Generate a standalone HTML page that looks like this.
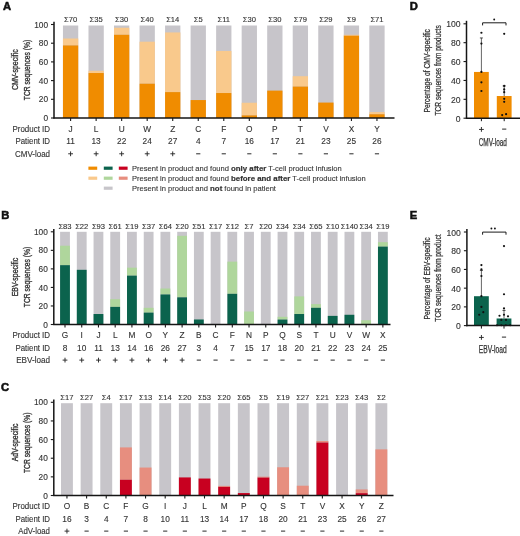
<!DOCTYPE html><html><head><meta charset="utf-8"><style>html,body{margin:0;padding:0;background:#fff;width:520px;height:536px;overflow:hidden}svg{display:block;will-change:transform}</style></head><body>
<svg width="520" height="536" viewBox="0 0 520 536" font-family='"Liberation Sans", sans-serif'>
<rect width="520" height="536" fill="#fff"/>
<text x="2.90" y="10.40" font-size="11.2" text-anchor="start" fill="#111" font-weight="bold" stroke="#111" stroke-width="0.55">A</text>
<text x="1.30" y="218.60" font-size="11.2" text-anchor="start" fill="#111" font-weight="bold" stroke="#111" stroke-width="0.55">B</text>
<text x="1.00" y="390.80" font-size="11.2" text-anchor="start" fill="#111" font-weight="bold" stroke="#111" stroke-width="0.55">C</text>
<text x="409.80" y="10.30" font-size="11.2" text-anchor="start" fill="#111" font-weight="bold" stroke="#111" stroke-width="0.55">D</text>
<text x="409.80" y="218.60" font-size="11.2" text-anchor="start" fill="#111" font-weight="bold" stroke="#111" stroke-width="0.55">E</text>
<line x1="54.00" y1="21.80" x2="54.00" y2="118.60" stroke="#151515" stroke-width="1.5"/>
<line x1="51.00" y1="118.00" x2="54.00" y2="118.00" stroke="#1a1a1a" stroke-width="1.1"/>
<text x="48.00" y="121.10" font-size="8.3" text-anchor="end" fill="#333333" stroke="#333" stroke-width="0.12">0</text>
<line x1="51.00" y1="99.30" x2="54.00" y2="99.30" stroke="#1a1a1a" stroke-width="1.1"/>
<text x="48.00" y="102.40" font-size="8.3" text-anchor="end" fill="#333333" stroke="#333" stroke-width="0.12">20</text>
<line x1="51.00" y1="80.60" x2="54.00" y2="80.60" stroke="#1a1a1a" stroke-width="1.1"/>
<text x="48.00" y="83.70" font-size="8.3" text-anchor="end" fill="#333333" stroke="#333" stroke-width="0.12">40</text>
<line x1="51.00" y1="61.90" x2="54.00" y2="61.90" stroke="#1a1a1a" stroke-width="1.1"/>
<text x="48.00" y="65.00" font-size="8.3" text-anchor="end" fill="#333333" stroke="#333" stroke-width="0.12">60</text>
<line x1="51.00" y1="43.20" x2="54.00" y2="43.20" stroke="#1a1a1a" stroke-width="1.1"/>
<text x="48.00" y="46.30" font-size="8.3" text-anchor="end" fill="#333333" stroke="#333" stroke-width="0.12">80</text>
<line x1="51.00" y1="24.50" x2="54.00" y2="24.50" stroke="#1a1a1a" stroke-width="1.1"/>
<text x="48.00" y="27.60" font-size="8.3" text-anchor="end" fill="#333333" stroke="#333" stroke-width="0.12">100</text>
<rect x="62.95" y="25.50" width="15.30" height="92.50" fill="#c7c5ca"/>
<rect x="62.95" y="38.52" width="15.30" height="6.92" fill="#f9c98c"/>
<rect x="62.95" y="45.44" width="15.30" height="72.56" fill="#f08c00"/>
<line x1="70.60" y1="118.00" x2="70.60" y2="121.00" stroke="#1a1a1a" stroke-width="1.1"/>
<text x="70.60" y="22.30" font-size="7.6" text-anchor="middle" fill="#333333" stroke="#333" stroke-width="0.12">Σ70</text>
<text x="70.60" y="131.50" font-size="8.3" text-anchor="middle" fill="#333333" stroke="#333" stroke-width="0.12">J</text>
<text x="70.60" y="144.00" font-size="8.3" text-anchor="middle" fill="#333333" stroke="#333" stroke-width="0.12">11</text>
<rect x="68.20" y="153.32" width="4.80" height="0.95" fill="#2a2a2a"/>
<rect x="70.13" y="151.40" width="0.95" height="4.80" fill="#2a2a2a"/>
<rect x="88.48" y="25.50" width="15.30" height="92.50" fill="#c7c5ca"/>
<rect x="88.48" y="70.78" width="15.30" height="2.24" fill="#f9c98c"/>
<rect x="88.48" y="73.03" width="15.30" height="44.97" fill="#f08c00"/>
<line x1="96.13" y1="118.00" x2="96.13" y2="121.00" stroke="#1a1a1a" stroke-width="1.1"/>
<text x="96.13" y="22.30" font-size="7.6" text-anchor="middle" fill="#333333" stroke="#333" stroke-width="0.12">Σ35</text>
<text x="96.13" y="131.50" font-size="8.3" text-anchor="middle" fill="#333333" stroke="#333" stroke-width="0.12">L</text>
<text x="96.13" y="144.00" font-size="8.3" text-anchor="middle" fill="#333333" stroke="#333" stroke-width="0.12">13</text>
<rect x="93.73" y="153.32" width="4.80" height="0.95" fill="#2a2a2a"/>
<rect x="95.66" y="151.40" width="0.95" height="4.80" fill="#2a2a2a"/>
<rect x="114.01" y="25.50" width="15.30" height="92.50" fill="#c7c5ca"/>
<rect x="114.01" y="27.77" width="15.30" height="7.01" fill="#f9c98c"/>
<rect x="114.01" y="34.78" width="15.30" height="83.22" fill="#f08c00"/>
<line x1="121.66" y1="118.00" x2="121.66" y2="121.00" stroke="#1a1a1a" stroke-width="1.1"/>
<text x="121.66" y="22.30" font-size="7.6" text-anchor="middle" fill="#333333" stroke="#333" stroke-width="0.12">Σ30</text>
<text x="121.66" y="131.50" font-size="8.3" text-anchor="middle" fill="#333333" stroke="#333" stroke-width="0.12">U</text>
<text x="121.66" y="144.00" font-size="8.3" text-anchor="middle" fill="#333333" stroke="#333" stroke-width="0.12">22</text>
<rect x="119.26" y="153.32" width="4.80" height="0.95" fill="#2a2a2a"/>
<rect x="121.19" y="151.40" width="0.95" height="4.80" fill="#2a2a2a"/>
<rect x="139.54" y="25.50" width="15.30" height="92.50" fill="#c7c5ca"/>
<rect x="139.54" y="41.70" width="15.30" height="41.98" fill="#f9c98c"/>
<rect x="139.54" y="83.69" width="15.30" height="34.31" fill="#f08c00"/>
<line x1="147.19" y1="118.00" x2="147.19" y2="121.00" stroke="#1a1a1a" stroke-width="1.1"/>
<text x="147.19" y="22.30" font-size="7.6" text-anchor="middle" fill="#333333" stroke="#333" stroke-width="0.12">Σ40</text>
<text x="147.19" y="131.50" font-size="8.3" text-anchor="middle" fill="#333333" stroke="#333" stroke-width="0.12">W</text>
<text x="147.19" y="144.00" font-size="8.3" text-anchor="middle" fill="#333333" stroke="#333" stroke-width="0.12">24</text>
<rect x="144.79" y="153.32" width="4.80" height="0.95" fill="#2a2a2a"/>
<rect x="146.72" y="151.40" width="0.95" height="4.80" fill="#2a2a2a"/>
<rect x="165.07" y="25.50" width="15.30" height="92.50" fill="#c7c5ca"/>
<rect x="165.07" y="32.45" width="15.30" height="59.65" fill="#f9c98c"/>
<rect x="165.07" y="92.10" width="15.30" height="25.90" fill="#f08c00"/>
<line x1="172.72" y1="118.00" x2="172.72" y2="121.00" stroke="#1a1a1a" stroke-width="1.1"/>
<text x="172.72" y="22.30" font-size="7.6" text-anchor="middle" fill="#333333" stroke="#333" stroke-width="0.12">Σ14</text>
<text x="172.72" y="131.50" font-size="8.3" text-anchor="middle" fill="#333333" stroke="#333" stroke-width="0.12">Z</text>
<text x="172.72" y="144.00" font-size="8.3" text-anchor="middle" fill="#333333" stroke="#333" stroke-width="0.12">27</text>
<rect x="170.32" y="153.32" width="4.80" height="0.95" fill="#2a2a2a"/>
<rect x="172.25" y="151.40" width="0.95" height="4.80" fill="#2a2a2a"/>
<rect x="190.60" y="25.50" width="15.30" height="92.50" fill="#c7c5ca"/>
<rect x="190.60" y="100.05" width="15.30" height="17.95" fill="#f08c00"/>
<line x1="198.25" y1="118.00" x2="198.25" y2="121.00" stroke="#1a1a1a" stroke-width="1.1"/>
<text x="198.25" y="22.30" font-size="7.6" text-anchor="middle" fill="#333333" stroke="#333" stroke-width="0.12">Σ5</text>
<text x="198.25" y="131.50" font-size="8.3" text-anchor="middle" fill="#333333" stroke="#333" stroke-width="0.12">C</text>
<text x="198.25" y="144.00" font-size="8.3" text-anchor="middle" fill="#333333" stroke="#333" stroke-width="0.12">4</text>
<rect x="196.15" y="153.30" width="4.20" height="1.00" fill="#2a2a2a"/>
<rect x="216.13" y="25.50" width="15.30" height="92.50" fill="#c7c5ca"/>
<rect x="216.13" y="50.96" width="15.30" height="42.08" fill="#f9c98c"/>
<rect x="216.13" y="93.04" width="15.30" height="24.96" fill="#f08c00"/>
<line x1="223.78" y1="118.00" x2="223.78" y2="121.00" stroke="#1a1a1a" stroke-width="1.1"/>
<text x="223.78" y="22.30" font-size="7.6" text-anchor="middle" fill="#333333" stroke="#333" stroke-width="0.12">Σ11</text>
<text x="223.78" y="131.50" font-size="8.3" text-anchor="middle" fill="#333333" stroke="#333" stroke-width="0.12">F</text>
<text x="223.78" y="144.00" font-size="8.3" text-anchor="middle" fill="#333333" stroke="#333" stroke-width="0.12">7</text>
<rect x="221.68" y="153.30" width="4.20" height="1.00" fill="#2a2a2a"/>
<rect x="241.66" y="25.50" width="15.30" height="92.50" fill="#c7c5ca"/>
<rect x="241.66" y="102.76" width="15.30" height="12.62" fill="#f9c98c"/>
<rect x="241.66" y="115.38" width="15.30" height="2.62" fill="#f08c00"/>
<line x1="249.31" y1="118.00" x2="249.31" y2="121.00" stroke="#1a1a1a" stroke-width="1.1"/>
<text x="249.31" y="22.30" font-size="7.6" text-anchor="middle" fill="#333333" stroke="#333" stroke-width="0.12">Σ30</text>
<text x="249.31" y="131.50" font-size="8.3" text-anchor="middle" fill="#333333" stroke="#333" stroke-width="0.12">O</text>
<text x="249.31" y="144.00" font-size="8.3" text-anchor="middle" fill="#333333" stroke="#333" stroke-width="0.12">16</text>
<rect x="247.21" y="153.30" width="4.20" height="1.00" fill="#2a2a2a"/>
<rect x="267.19" y="25.50" width="15.30" height="92.50" fill="#c7c5ca"/>
<rect x="267.19" y="90.60" width="15.30" height="27.40" fill="#f08c00"/>
<line x1="274.84" y1="118.00" x2="274.84" y2="121.00" stroke="#1a1a1a" stroke-width="1.1"/>
<text x="274.84" y="22.30" font-size="7.6" text-anchor="middle" fill="#333333" stroke="#333" stroke-width="0.12">Σ30</text>
<text x="274.84" y="131.50" font-size="8.3" text-anchor="middle" fill="#333333" stroke="#333" stroke-width="0.12">P</text>
<text x="274.84" y="144.00" font-size="8.3" text-anchor="middle" fill="#333333" stroke="#333" stroke-width="0.12">17</text>
<rect x="272.74" y="153.30" width="4.20" height="1.00" fill="#2a2a2a"/>
<rect x="292.72" y="25.50" width="15.30" height="92.50" fill="#c7c5ca"/>
<rect x="292.72" y="76.21" width="15.30" height="10.38" fill="#f9c98c"/>
<rect x="292.72" y="86.58" width="15.30" height="31.42" fill="#f08c00"/>
<line x1="300.37" y1="118.00" x2="300.37" y2="121.00" stroke="#1a1a1a" stroke-width="1.1"/>
<text x="300.37" y="22.30" font-size="7.6" text-anchor="middle" fill="#333333" stroke="#333" stroke-width="0.12">Σ79</text>
<text x="300.37" y="131.50" font-size="8.3" text-anchor="middle" fill="#333333" stroke="#333" stroke-width="0.12">T</text>
<text x="300.37" y="144.00" font-size="8.3" text-anchor="middle" fill="#333333" stroke="#333" stroke-width="0.12">21</text>
<rect x="298.27" y="153.30" width="4.20" height="1.00" fill="#2a2a2a"/>
<rect x="318.25" y="25.50" width="15.30" height="92.50" fill="#c7c5ca"/>
<rect x="318.25" y="102.57" width="15.30" height="15.43" fill="#f08c00"/>
<line x1="325.90" y1="118.00" x2="325.90" y2="121.00" stroke="#1a1a1a" stroke-width="1.1"/>
<text x="325.90" y="22.30" font-size="7.6" text-anchor="middle" fill="#333333" stroke="#333" stroke-width="0.12">Σ29</text>
<text x="325.90" y="131.50" font-size="8.3" text-anchor="middle" fill="#333333" stroke="#333" stroke-width="0.12">V</text>
<text x="325.90" y="144.00" font-size="8.3" text-anchor="middle" fill="#333333" stroke="#333" stroke-width="0.12">23</text>
<rect x="323.80" y="153.30" width="4.20" height="1.00" fill="#2a2a2a"/>
<rect x="343.78" y="25.50" width="15.30" height="92.50" fill="#c7c5ca"/>
<rect x="343.78" y="34.78" width="15.30" height="0.94" fill="#f9c98c"/>
<rect x="343.78" y="35.72" width="15.30" height="82.28" fill="#f08c00"/>
<line x1="351.43" y1="118.00" x2="351.43" y2="121.00" stroke="#1a1a1a" stroke-width="1.1"/>
<text x="351.43" y="22.30" font-size="7.6" text-anchor="middle" fill="#333333" stroke="#333" stroke-width="0.12">Σ9</text>
<text x="351.43" y="131.50" font-size="8.3" text-anchor="middle" fill="#333333" stroke="#333" stroke-width="0.12">X</text>
<text x="351.43" y="144.00" font-size="8.3" text-anchor="middle" fill="#333333" stroke="#333" stroke-width="0.12">25</text>
<rect x="349.33" y="153.30" width="4.20" height="1.00" fill="#2a2a2a"/>
<rect x="369.31" y="25.50" width="15.30" height="92.50" fill="#c7c5ca"/>
<rect x="369.31" y="112.11" width="15.30" height="2.15" fill="#f9c98c"/>
<rect x="369.31" y="114.26" width="15.30" height="3.74" fill="#f08c00"/>
<line x1="376.96" y1="118.00" x2="376.96" y2="121.00" stroke="#1a1a1a" stroke-width="1.1"/>
<text x="376.96" y="22.30" font-size="7.6" text-anchor="middle" fill="#333333" stroke="#333" stroke-width="0.12">Σ71</text>
<text x="376.96" y="131.50" font-size="8.3" text-anchor="middle" fill="#333333" stroke="#333" stroke-width="0.12">Y</text>
<text x="376.96" y="144.00" font-size="8.3" text-anchor="middle" fill="#333333" stroke="#333" stroke-width="0.12">26</text>
<rect x="374.86" y="153.30" width="4.20" height="1.00" fill="#2a2a2a"/>
<line x1="53.40" y1="118.00" x2="394.50" y2="118.00" stroke="#151515" stroke-width="1.5"/>
<text x="12.50" y="131.50" font-size="8.3" fill="#333333" stroke="#333333" stroke-width="0.12" textLength="37.5" lengthAdjust="spacingAndGlyphs">Product ID</text>
<text x="15.50" y="144.00" font-size="8.3" fill="#333333" stroke="#333333" stroke-width="0.12" textLength="34.5" lengthAdjust="spacingAndGlyphs">Patient ID</text>
<text x="15.00" y="156.70" font-size="8.3" fill="#333333" stroke="#333333" stroke-width="0.12" textLength="35" lengthAdjust="spacingAndGlyphs">CMV-load</text>
<text transform="translate(18.30,69.70) rotate(-90)" font-size="8.7" text-anchor="middle" fill="#333333" stroke="#333333" stroke-width="0.35" textLength="40.8" lengthAdjust="spacingAndGlyphs">CMV-specific</text>
<text transform="translate(29.50,70.00) rotate(-90)" font-size="8.7" text-anchor="middle" fill="#333333" stroke="#333333" stroke-width="0.35" textLength="60.3" lengthAdjust="spacingAndGlyphs">TCR sequences (%)</text>
<line x1="53.80" y1="229.10" x2="53.80" y2="325.10" stroke="#151515" stroke-width="1.5"/>
<line x1="50.80" y1="324.50" x2="53.80" y2="324.50" stroke="#1a1a1a" stroke-width="1.1"/>
<text x="47.80" y="327.60" font-size="8.3" text-anchor="end" fill="#333333" stroke="#333" stroke-width="0.12">0</text>
<line x1="50.80" y1="305.96" x2="53.80" y2="305.96" stroke="#1a1a1a" stroke-width="1.1"/>
<text x="47.80" y="309.06" font-size="8.3" text-anchor="end" fill="#333333" stroke="#333" stroke-width="0.12">20</text>
<line x1="50.80" y1="287.42" x2="53.80" y2="287.42" stroke="#1a1a1a" stroke-width="1.1"/>
<text x="47.80" y="290.52" font-size="8.3" text-anchor="end" fill="#333333" stroke="#333" stroke-width="0.12">40</text>
<line x1="50.80" y1="268.88" x2="53.80" y2="268.88" stroke="#1a1a1a" stroke-width="1.1"/>
<text x="47.80" y="271.98" font-size="8.3" text-anchor="end" fill="#333333" stroke="#333" stroke-width="0.12">60</text>
<line x1="50.80" y1="250.34" x2="53.80" y2="250.34" stroke="#1a1a1a" stroke-width="1.1"/>
<text x="47.80" y="253.44" font-size="8.3" text-anchor="end" fill="#333333" stroke="#333" stroke-width="0.12">80</text>
<line x1="50.80" y1="231.80" x2="53.80" y2="231.80" stroke="#1a1a1a" stroke-width="1.1"/>
<text x="47.80" y="234.90" font-size="8.3" text-anchor="end" fill="#333333" stroke="#333" stroke-width="0.12">100</text>
<rect x="60.10" y="231.80" width="9.80" height="92.70" fill="#c7c5ca"/>
<rect x="60.10" y="245.71" width="9.80" height="19.47" fill="#afd69c"/>
<rect x="60.10" y="265.17" width="9.80" height="59.33" fill="#0b634d"/>
<line x1="65.00" y1="324.50" x2="65.00" y2="327.50" stroke="#1a1a1a" stroke-width="1.1"/>
<text x="65.00" y="228.60" font-size="7.6" text-anchor="middle" fill="#333333" stroke="#333" stroke-width="0.12">Σ83</text>
<text x="65.00" y="338.40" font-size="8.3" text-anchor="middle" fill="#333333" stroke="#333" stroke-width="0.12">G</text>
<text x="65.00" y="350.70" font-size="8.3" text-anchor="middle" fill="#333333" stroke="#333" stroke-width="0.12">8</text>
<rect x="62.60" y="359.62" width="4.80" height="0.95" fill="#2a2a2a"/>
<rect x="64.53" y="357.70" width="0.95" height="4.80" fill="#2a2a2a"/>
<rect x="76.83" y="231.80" width="9.80" height="92.70" fill="#c7c5ca"/>
<rect x="76.83" y="269.81" width="9.80" height="54.69" fill="#0b634d"/>
<line x1="81.73" y1="324.50" x2="81.73" y2="327.50" stroke="#1a1a1a" stroke-width="1.1"/>
<text x="81.73" y="228.60" font-size="7.6" text-anchor="middle" fill="#333333" stroke="#333" stroke-width="0.12">Σ22</text>
<text x="81.73" y="338.40" font-size="8.3" text-anchor="middle" fill="#333333" stroke="#333" stroke-width="0.12">I</text>
<text x="81.73" y="350.70" font-size="8.3" text-anchor="middle" fill="#333333" stroke="#333" stroke-width="0.12">10</text>
<rect x="79.33" y="359.62" width="4.80" height="0.95" fill="#2a2a2a"/>
<rect x="81.26" y="357.70" width="0.95" height="4.80" fill="#2a2a2a"/>
<rect x="93.56" y="231.80" width="9.80" height="92.70" fill="#c7c5ca"/>
<rect x="93.56" y="314.02" width="9.80" height="10.48" fill="#0b634d"/>
<line x1="98.46" y1="324.50" x2="98.46" y2="327.50" stroke="#1a1a1a" stroke-width="1.1"/>
<text x="98.46" y="228.60" font-size="7.6" text-anchor="middle" fill="#333333" stroke="#333" stroke-width="0.12">Σ93</text>
<text x="98.46" y="338.40" font-size="8.3" text-anchor="middle" fill="#333333" stroke="#333" stroke-width="0.12">J</text>
<text x="98.46" y="350.70" font-size="8.3" text-anchor="middle" fill="#333333" stroke="#333" stroke-width="0.12">11</text>
<rect x="96.06" y="359.62" width="4.80" height="0.95" fill="#2a2a2a"/>
<rect x="97.99" y="357.70" width="0.95" height="4.80" fill="#2a2a2a"/>
<rect x="110.29" y="231.80" width="9.80" height="92.70" fill="#c7c5ca"/>
<rect x="110.29" y="299.19" width="9.80" height="7.69" fill="#afd69c"/>
<rect x="110.29" y="306.89" width="9.80" height="17.61" fill="#0b634d"/>
<line x1="115.19" y1="324.50" x2="115.19" y2="327.50" stroke="#1a1a1a" stroke-width="1.1"/>
<text x="115.19" y="228.60" font-size="7.6" text-anchor="middle" fill="#333333" stroke="#333" stroke-width="0.12">Σ61</text>
<text x="115.19" y="338.40" font-size="8.3" text-anchor="middle" fill="#333333" stroke="#333" stroke-width="0.12">L</text>
<text x="115.19" y="350.70" font-size="8.3" text-anchor="middle" fill="#333333" stroke="#333" stroke-width="0.12">13</text>
<rect x="112.79" y="359.62" width="4.80" height="0.95" fill="#2a2a2a"/>
<rect x="114.72" y="357.70" width="0.95" height="4.80" fill="#2a2a2a"/>
<rect x="127.02" y="231.80" width="9.80" height="92.70" fill="#c7c5ca"/>
<rect x="127.02" y="267.67" width="9.80" height="7.97" fill="#afd69c"/>
<rect x="127.02" y="275.65" width="9.80" height="48.85" fill="#0b634d"/>
<line x1="131.92" y1="324.50" x2="131.92" y2="327.50" stroke="#1a1a1a" stroke-width="1.1"/>
<text x="131.92" y="228.60" font-size="7.6" text-anchor="middle" fill="#333333" stroke="#333" stroke-width="0.12">Σ19</text>
<text x="131.92" y="338.40" font-size="8.3" text-anchor="middle" fill="#333333" stroke="#333" stroke-width="0.12">M</text>
<text x="131.92" y="350.70" font-size="8.3" text-anchor="middle" fill="#333333" stroke="#333" stroke-width="0.12">14</text>
<rect x="129.52" y="359.62" width="4.80" height="0.95" fill="#2a2a2a"/>
<rect x="131.45" y="357.70" width="0.95" height="4.80" fill="#2a2a2a"/>
<rect x="143.75" y="231.80" width="9.80" height="92.70" fill="#c7c5ca"/>
<rect x="143.75" y="307.81" width="9.80" height="4.82" fill="#afd69c"/>
<rect x="143.75" y="312.63" width="9.80" height="11.87" fill="#0b634d"/>
<line x1="148.65" y1="324.50" x2="148.65" y2="327.50" stroke="#1a1a1a" stroke-width="1.1"/>
<text x="148.65" y="228.60" font-size="7.6" text-anchor="middle" fill="#333333" stroke="#333" stroke-width="0.12">Σ37</text>
<text x="148.65" y="338.40" font-size="8.3" text-anchor="middle" fill="#333333" stroke="#333" stroke-width="0.12">O</text>
<text x="148.65" y="350.70" font-size="8.3" text-anchor="middle" fill="#333333" stroke="#333" stroke-width="0.12">16</text>
<rect x="146.25" y="359.62" width="4.80" height="0.95" fill="#2a2a2a"/>
<rect x="148.18" y="357.70" width="0.95" height="4.80" fill="#2a2a2a"/>
<rect x="160.48" y="231.80" width="9.80" height="92.70" fill="#c7c5ca"/>
<rect x="160.48" y="288.53" width="9.80" height="5.93" fill="#afd69c"/>
<rect x="160.48" y="294.47" width="9.80" height="30.03" fill="#0b634d"/>
<line x1="165.38" y1="324.50" x2="165.38" y2="327.50" stroke="#1a1a1a" stroke-width="1.1"/>
<text x="165.38" y="228.60" font-size="7.6" text-anchor="middle" fill="#333333" stroke="#333" stroke-width="0.12">Σ64</text>
<text x="165.38" y="338.40" font-size="8.3" text-anchor="middle" fill="#333333" stroke="#333" stroke-width="0.12">Y</text>
<text x="165.38" y="350.70" font-size="8.3" text-anchor="middle" fill="#333333" stroke="#333" stroke-width="0.12">26</text>
<rect x="162.98" y="359.62" width="4.80" height="0.95" fill="#2a2a2a"/>
<rect x="164.91" y="357.70" width="0.95" height="4.80" fill="#2a2a2a"/>
<rect x="177.21" y="231.80" width="9.80" height="92.70" fill="#c7c5ca"/>
<rect x="177.21" y="235.79" width="9.80" height="61.55" fill="#afd69c"/>
<rect x="177.21" y="297.34" width="9.80" height="27.16" fill="#0b634d"/>
<line x1="182.11" y1="324.50" x2="182.11" y2="327.50" stroke="#1a1a1a" stroke-width="1.1"/>
<text x="182.11" y="228.60" font-size="7.6" text-anchor="middle" fill="#333333" stroke="#333" stroke-width="0.12">Σ20</text>
<text x="182.11" y="338.40" font-size="8.3" text-anchor="middle" fill="#333333" stroke="#333" stroke-width="0.12">Z</text>
<text x="182.11" y="350.70" font-size="8.3" text-anchor="middle" fill="#333333" stroke="#333" stroke-width="0.12">27</text>
<rect x="179.71" y="359.62" width="4.80" height="0.95" fill="#2a2a2a"/>
<rect x="181.64" y="357.70" width="0.95" height="4.80" fill="#2a2a2a"/>
<rect x="193.94" y="231.80" width="9.80" height="92.70" fill="#c7c5ca"/>
<rect x="193.94" y="319.49" width="9.80" height="5.01" fill="#0b634d"/>
<line x1="198.84" y1="324.50" x2="198.84" y2="327.50" stroke="#1a1a1a" stroke-width="1.1"/>
<text x="198.84" y="228.60" font-size="7.6" text-anchor="middle" fill="#333333" stroke="#333" stroke-width="0.12">Σ51</text>
<text x="198.84" y="338.40" font-size="8.3" text-anchor="middle" fill="#333333" stroke="#333" stroke-width="0.12">B</text>
<text x="198.84" y="350.70" font-size="8.3" text-anchor="middle" fill="#333333" stroke="#333" stroke-width="0.12">3</text>
<rect x="196.74" y="359.60" width="4.20" height="1.00" fill="#2a2a2a"/>
<rect x="210.67" y="231.80" width="9.80" height="92.70" fill="#c7c5ca"/>
<line x1="215.57" y1="324.50" x2="215.57" y2="327.50" stroke="#1a1a1a" stroke-width="1.1"/>
<text x="215.57" y="228.60" font-size="7.6" text-anchor="middle" fill="#333333" stroke="#333" stroke-width="0.12">Σ17</text>
<text x="215.57" y="338.40" font-size="8.3" text-anchor="middle" fill="#333333" stroke="#333" stroke-width="0.12">C</text>
<text x="215.57" y="350.70" font-size="8.3" text-anchor="middle" fill="#333333" stroke="#333" stroke-width="0.12">4</text>
<rect x="213.47" y="359.60" width="4.20" height="1.00" fill="#2a2a2a"/>
<rect x="227.40" y="231.80" width="9.80" height="92.70" fill="#c7c5ca"/>
<rect x="227.40" y="261.65" width="9.80" height="32.17" fill="#afd69c"/>
<rect x="227.40" y="293.82" width="9.80" height="30.68" fill="#0b634d"/>
<line x1="232.30" y1="324.50" x2="232.30" y2="327.50" stroke="#1a1a1a" stroke-width="1.1"/>
<text x="232.30" y="228.60" font-size="7.6" text-anchor="middle" fill="#333333" stroke="#333" stroke-width="0.12">Σ12</text>
<text x="232.30" y="338.40" font-size="8.3" text-anchor="middle" fill="#333333" stroke="#333" stroke-width="0.12">F</text>
<text x="232.30" y="350.70" font-size="8.3" text-anchor="middle" fill="#333333" stroke="#333" stroke-width="0.12">7</text>
<rect x="230.20" y="359.60" width="4.20" height="1.00" fill="#2a2a2a"/>
<rect x="244.13" y="231.80" width="9.80" height="92.70" fill="#c7c5ca"/>
<rect x="244.13" y="311.52" width="9.80" height="12.98" fill="#afd69c"/>
<line x1="249.03" y1="324.50" x2="249.03" y2="327.50" stroke="#1a1a1a" stroke-width="1.1"/>
<text x="249.03" y="228.60" font-size="7.6" text-anchor="middle" fill="#333333" stroke="#333" stroke-width="0.12">Σ7</text>
<text x="249.03" y="338.40" font-size="8.3" text-anchor="middle" fill="#333333" stroke="#333" stroke-width="0.12">N</text>
<text x="249.03" y="350.70" font-size="8.3" text-anchor="middle" fill="#333333" stroke="#333" stroke-width="0.12">15</text>
<rect x="246.93" y="359.60" width="4.20" height="1.00" fill="#2a2a2a"/>
<rect x="260.86" y="231.80" width="9.80" height="92.70" fill="#c7c5ca"/>
<line x1="265.76" y1="324.50" x2="265.76" y2="327.50" stroke="#1a1a1a" stroke-width="1.1"/>
<text x="265.76" y="228.60" font-size="7.6" text-anchor="middle" fill="#333333" stroke="#333" stroke-width="0.12">Σ20</text>
<text x="265.76" y="338.40" font-size="8.3" text-anchor="middle" fill="#333333" stroke="#333" stroke-width="0.12">P</text>
<text x="265.76" y="350.70" font-size="8.3" text-anchor="middle" fill="#333333" stroke="#333" stroke-width="0.12">17</text>
<rect x="263.66" y="359.60" width="4.20" height="1.00" fill="#2a2a2a"/>
<rect x="277.59" y="231.80" width="9.80" height="92.70" fill="#c7c5ca"/>
<rect x="277.59" y="316.81" width="9.80" height="2.78" fill="#afd69c"/>
<rect x="277.59" y="319.59" width="9.80" height="4.91" fill="#0b634d"/>
<line x1="282.49" y1="324.50" x2="282.49" y2="327.50" stroke="#1a1a1a" stroke-width="1.1"/>
<text x="282.49" y="228.60" font-size="7.6" text-anchor="middle" fill="#333333" stroke="#333" stroke-width="0.12">Σ34</text>
<text x="282.49" y="338.40" font-size="8.3" text-anchor="middle" fill="#333333" stroke="#333" stroke-width="0.12">Q</text>
<text x="282.49" y="350.70" font-size="8.3" text-anchor="middle" fill="#333333" stroke="#333" stroke-width="0.12">18</text>
<rect x="280.39" y="359.60" width="4.20" height="1.00" fill="#2a2a2a"/>
<rect x="294.32" y="231.80" width="9.80" height="92.70" fill="#c7c5ca"/>
<rect x="294.32" y="296.41" width="9.80" height="17.61" fill="#afd69c"/>
<rect x="294.32" y="314.02" width="9.80" height="10.48" fill="#0b634d"/>
<line x1="299.22" y1="324.50" x2="299.22" y2="327.50" stroke="#1a1a1a" stroke-width="1.1"/>
<text x="299.22" y="228.60" font-size="7.6" text-anchor="middle" fill="#333333" stroke="#333" stroke-width="0.12">Σ34</text>
<text x="299.22" y="338.40" font-size="8.3" text-anchor="middle" fill="#333333" stroke="#333" stroke-width="0.12">S</text>
<text x="299.22" y="350.70" font-size="8.3" text-anchor="middle" fill="#333333" stroke="#333" stroke-width="0.12">20</text>
<rect x="297.12" y="359.60" width="4.20" height="1.00" fill="#2a2a2a"/>
<rect x="311.05" y="231.80" width="9.80" height="92.70" fill="#c7c5ca"/>
<rect x="311.05" y="304.11" width="9.80" height="3.71" fill="#afd69c"/>
<rect x="311.05" y="307.81" width="9.80" height="16.69" fill="#0b634d"/>
<line x1="315.95" y1="324.50" x2="315.95" y2="327.50" stroke="#1a1a1a" stroke-width="1.1"/>
<text x="315.95" y="228.60" font-size="7.6" text-anchor="middle" fill="#333333" stroke="#333" stroke-width="0.12">Σ65</text>
<text x="315.95" y="338.40" font-size="8.3" text-anchor="middle" fill="#333333" stroke="#333" stroke-width="0.12">T</text>
<text x="315.95" y="350.70" font-size="8.3" text-anchor="middle" fill="#333333" stroke="#333" stroke-width="0.12">21</text>
<rect x="313.85" y="359.60" width="4.20" height="1.00" fill="#2a2a2a"/>
<rect x="327.78" y="231.80" width="9.80" height="92.70" fill="#c7c5ca"/>
<rect x="327.78" y="315.88" width="9.80" height="8.62" fill="#0b634d"/>
<line x1="332.68" y1="324.50" x2="332.68" y2="327.50" stroke="#1a1a1a" stroke-width="1.1"/>
<text x="332.68" y="228.60" font-size="7.6" text-anchor="middle" fill="#333333" stroke="#333" stroke-width="0.12">Σ10</text>
<text x="332.68" y="338.40" font-size="8.3" text-anchor="middle" fill="#333333" stroke="#333" stroke-width="0.12">U</text>
<text x="332.68" y="350.70" font-size="8.3" text-anchor="middle" fill="#333333" stroke="#333" stroke-width="0.12">22</text>
<rect x="330.58" y="359.60" width="4.20" height="1.00" fill="#2a2a2a"/>
<rect x="344.51" y="231.80" width="9.80" height="92.70" fill="#c7c5ca"/>
<rect x="344.51" y="314.77" width="9.80" height="9.73" fill="#0b634d"/>
<line x1="349.41" y1="324.50" x2="349.41" y2="327.50" stroke="#1a1a1a" stroke-width="1.1"/>
<text x="349.41" y="228.60" font-size="7.6" text-anchor="middle" fill="#333333" stroke="#333" stroke-width="0.12">Σ140</text>
<text x="349.41" y="338.40" font-size="8.3" text-anchor="middle" fill="#333333" stroke="#333" stroke-width="0.12">V</text>
<text x="349.41" y="350.70" font-size="8.3" text-anchor="middle" fill="#333333" stroke="#333" stroke-width="0.12">23</text>
<rect x="347.31" y="359.60" width="4.20" height="1.00" fill="#2a2a2a"/>
<rect x="361.24" y="231.80" width="9.80" height="92.70" fill="#c7c5ca"/>
<rect x="361.24" y="320.24" width="9.80" height="4.26" fill="#afd69c"/>
<line x1="366.14" y1="324.50" x2="366.14" y2="327.50" stroke="#1a1a1a" stroke-width="1.1"/>
<text x="366.14" y="228.60" font-size="7.6" text-anchor="middle" fill="#333333" stroke="#333" stroke-width="0.12">Σ34</text>
<text x="366.14" y="338.40" font-size="8.3" text-anchor="middle" fill="#333333" stroke="#333" stroke-width="0.12">W</text>
<text x="366.14" y="350.70" font-size="8.3" text-anchor="middle" fill="#333333" stroke="#333" stroke-width="0.12">24</text>
<rect x="364.04" y="359.60" width="4.20" height="1.00" fill="#2a2a2a"/>
<rect x="377.97" y="231.80" width="9.80" height="92.70" fill="#c7c5ca"/>
<rect x="377.97" y="242.18" width="9.80" height="4.45" fill="#afd69c"/>
<rect x="377.97" y="246.63" width="9.80" height="77.87" fill="#0b634d"/>
<line x1="382.87" y1="324.50" x2="382.87" y2="327.50" stroke="#1a1a1a" stroke-width="1.1"/>
<text x="382.87" y="228.60" font-size="7.6" text-anchor="middle" fill="#333333" stroke="#333" stroke-width="0.12">Σ19</text>
<text x="382.87" y="338.40" font-size="8.3" text-anchor="middle" fill="#333333" stroke="#333" stroke-width="0.12">X</text>
<text x="382.87" y="350.70" font-size="8.3" text-anchor="middle" fill="#333333" stroke="#333" stroke-width="0.12">25</text>
<rect x="380.77" y="359.60" width="4.20" height="1.00" fill="#2a2a2a"/>
<line x1="53.20" y1="324.50" x2="390.50" y2="324.50" stroke="#151515" stroke-width="1.5"/>
<text x="12.50" y="338.40" font-size="8.3" fill="#333333" stroke="#333333" stroke-width="0.12" textLength="37.5" lengthAdjust="spacingAndGlyphs">Product ID</text>
<text x="15.50" y="350.70" font-size="8.3" fill="#333333" stroke="#333333" stroke-width="0.12" textLength="34.5" lengthAdjust="spacingAndGlyphs">Patient ID</text>
<text x="16.20" y="363.00" font-size="8.3" fill="#333333" stroke="#333333" stroke-width="0.12" textLength="33.8" lengthAdjust="spacingAndGlyphs">EBV-load</text>
<text transform="translate(18.30,277.00) rotate(-90)" font-size="8.7" text-anchor="middle" fill="#333333" stroke="#333333" stroke-width="0.35" textLength="38.6" lengthAdjust="spacingAndGlyphs">EBV-specific</text>
<text transform="translate(29.50,277.00) rotate(-90)" font-size="8.7" text-anchor="middle" fill="#333333" stroke="#333333" stroke-width="0.35" textLength="60.4" lengthAdjust="spacingAndGlyphs">TCR sequences (%)</text>
<line x1="53.80" y1="399.60" x2="53.80" y2="496.10" stroke="#151515" stroke-width="1.5"/>
<line x1="50.80" y1="495.50" x2="53.80" y2="495.50" stroke="#1a1a1a" stroke-width="1.1"/>
<text x="47.80" y="498.60" font-size="8.3" text-anchor="end" fill="#333333" stroke="#333" stroke-width="0.12">0</text>
<line x1="50.80" y1="476.86" x2="53.80" y2="476.86" stroke="#1a1a1a" stroke-width="1.1"/>
<text x="47.80" y="479.96" font-size="8.3" text-anchor="end" fill="#333333" stroke="#333" stroke-width="0.12">20</text>
<line x1="50.80" y1="458.22" x2="53.80" y2="458.22" stroke="#1a1a1a" stroke-width="1.1"/>
<text x="47.80" y="461.32" font-size="8.3" text-anchor="end" fill="#333333" stroke="#333" stroke-width="0.12">40</text>
<line x1="50.80" y1="439.58" x2="53.80" y2="439.58" stroke="#1a1a1a" stroke-width="1.1"/>
<text x="47.80" y="442.68" font-size="8.3" text-anchor="end" fill="#333333" stroke="#333" stroke-width="0.12">60</text>
<line x1="50.80" y1="420.94" x2="53.80" y2="420.94" stroke="#1a1a1a" stroke-width="1.1"/>
<text x="47.80" y="424.04" font-size="8.3" text-anchor="end" fill="#333333" stroke="#333" stroke-width="0.12">80</text>
<line x1="50.80" y1="402.30" x2="53.80" y2="402.30" stroke="#1a1a1a" stroke-width="1.1"/>
<text x="47.80" y="405.40" font-size="8.3" text-anchor="end" fill="#333333" stroke="#333" stroke-width="0.12">100</text>
<rect x="61.00" y="403.20" width="11.90" height="92.30" fill="#c7c5ca"/>
<line x1="66.95" y1="495.50" x2="66.95" y2="498.50" stroke="#1a1a1a" stroke-width="1.1"/>
<text x="66.95" y="399.80" font-size="7.6" text-anchor="middle" fill="#333333" stroke="#333" stroke-width="0.12">Σ17</text>
<text x="66.95" y="509.40" font-size="8.3" text-anchor="middle" fill="#333333" stroke="#333" stroke-width="0.12">O</text>
<text x="66.95" y="522.00" font-size="8.3" text-anchor="middle" fill="#333333" stroke="#333" stroke-width="0.12">16</text>
<rect x="64.55" y="530.62" width="4.80" height="0.95" fill="#2a2a2a"/>
<rect x="66.48" y="528.70" width="0.95" height="4.80" fill="#2a2a2a"/>
<rect x="80.65" y="403.20" width="11.90" height="92.30" fill="#c7c5ca"/>
<line x1="86.60" y1="495.50" x2="86.60" y2="498.50" stroke="#1a1a1a" stroke-width="1.1"/>
<text x="86.60" y="399.80" font-size="7.6" text-anchor="middle" fill="#333333" stroke="#333" stroke-width="0.12">Σ27</text>
<text x="86.60" y="509.40" font-size="8.3" text-anchor="middle" fill="#333333" stroke="#333" stroke-width="0.12">B</text>
<text x="86.60" y="522.00" font-size="8.3" text-anchor="middle" fill="#333333" stroke="#333" stroke-width="0.12">3</text>
<rect x="84.50" y="530.60" width="4.20" height="1.00" fill="#2a2a2a"/>
<rect x="100.30" y="403.20" width="11.90" height="92.30" fill="#c7c5ca"/>
<line x1="106.25" y1="495.50" x2="106.25" y2="498.50" stroke="#1a1a1a" stroke-width="1.1"/>
<text x="106.25" y="399.80" font-size="7.6" text-anchor="middle" fill="#333333" stroke="#333" stroke-width="0.12">Σ4</text>
<text x="106.25" y="509.40" font-size="8.3" text-anchor="middle" fill="#333333" stroke="#333" stroke-width="0.12">C</text>
<text x="106.25" y="522.00" font-size="8.3" text-anchor="middle" fill="#333333" stroke="#333" stroke-width="0.12">4</text>
<rect x="104.15" y="530.60" width="4.20" height="1.00" fill="#2a2a2a"/>
<rect x="119.95" y="403.20" width="11.90" height="92.30" fill="#c7c5ca"/>
<rect x="119.95" y="447.41" width="11.90" height="32.34" fill="#e78e7f"/>
<rect x="119.95" y="479.75" width="11.90" height="15.75" fill="#c80020"/>
<line x1="125.90" y1="495.50" x2="125.90" y2="498.50" stroke="#1a1a1a" stroke-width="1.1"/>
<text x="125.90" y="399.80" font-size="7.6" text-anchor="middle" fill="#333333" stroke="#333" stroke-width="0.12">Σ17</text>
<text x="125.90" y="509.40" font-size="8.3" text-anchor="middle" fill="#333333" stroke="#333" stroke-width="0.12">F</text>
<text x="125.90" y="522.00" font-size="8.3" text-anchor="middle" fill="#333333" stroke="#333" stroke-width="0.12">7</text>
<rect x="123.80" y="530.60" width="4.20" height="1.00" fill="#2a2a2a"/>
<rect x="139.60" y="403.20" width="11.90" height="92.30" fill="#c7c5ca"/>
<rect x="139.60" y="467.54" width="11.90" height="27.96" fill="#e78e7f"/>
<line x1="145.55" y1="495.50" x2="145.55" y2="498.50" stroke="#1a1a1a" stroke-width="1.1"/>
<text x="145.55" y="399.80" font-size="7.6" text-anchor="middle" fill="#333333" stroke="#333" stroke-width="0.12">Σ13</text>
<text x="145.55" y="509.40" font-size="8.3" text-anchor="middle" fill="#333333" stroke="#333" stroke-width="0.12">G</text>
<text x="145.55" y="522.00" font-size="8.3" text-anchor="middle" fill="#333333" stroke="#333" stroke-width="0.12">8</text>
<rect x="143.45" y="530.60" width="4.20" height="1.00" fill="#2a2a2a"/>
<rect x="159.25" y="403.20" width="11.90" height="92.30" fill="#c7c5ca"/>
<line x1="165.20" y1="495.50" x2="165.20" y2="498.50" stroke="#1a1a1a" stroke-width="1.1"/>
<text x="165.20" y="399.80" font-size="7.6" text-anchor="middle" fill="#333333" stroke="#333" stroke-width="0.12">Σ14</text>
<text x="165.20" y="509.40" font-size="8.3" text-anchor="middle" fill="#333333" stroke="#333" stroke-width="0.12">I</text>
<text x="165.20" y="522.00" font-size="8.3" text-anchor="middle" fill="#333333" stroke="#333" stroke-width="0.12">10</text>
<rect x="163.10" y="530.60" width="4.20" height="1.00" fill="#2a2a2a"/>
<rect x="178.90" y="403.20" width="11.90" height="92.30" fill="#c7c5ca"/>
<rect x="178.90" y="477.42" width="11.90" height="18.08" fill="#c80020"/>
<line x1="184.85" y1="495.50" x2="184.85" y2="498.50" stroke="#1a1a1a" stroke-width="1.1"/>
<text x="184.85" y="399.80" font-size="7.6" text-anchor="middle" fill="#333333" stroke="#333" stroke-width="0.12">Σ20</text>
<text x="184.85" y="509.40" font-size="8.3" text-anchor="middle" fill="#333333" stroke="#333" stroke-width="0.12">J</text>
<text x="184.85" y="522.00" font-size="8.3" text-anchor="middle" fill="#333333" stroke="#333" stroke-width="0.12">11</text>
<rect x="182.75" y="530.60" width="4.20" height="1.00" fill="#2a2a2a"/>
<rect x="198.55" y="403.20" width="11.90" height="92.30" fill="#c7c5ca"/>
<rect x="198.55" y="478.54" width="11.90" height="16.96" fill="#c80020"/>
<line x1="204.50" y1="495.50" x2="204.50" y2="498.50" stroke="#1a1a1a" stroke-width="1.1"/>
<text x="204.50" y="399.80" font-size="7.6" text-anchor="middle" fill="#333333" stroke="#333" stroke-width="0.12">Σ53</text>
<text x="204.50" y="509.40" font-size="8.3" text-anchor="middle" fill="#333333" stroke="#333" stroke-width="0.12">L</text>
<text x="204.50" y="522.00" font-size="8.3" text-anchor="middle" fill="#333333" stroke="#333" stroke-width="0.12">13</text>
<rect x="202.40" y="530.60" width="4.20" height="1.00" fill="#2a2a2a"/>
<rect x="218.20" y="403.20" width="11.90" height="92.30" fill="#c7c5ca"/>
<rect x="218.20" y="485.90" width="11.90" height="1.03" fill="#e78e7f"/>
<rect x="218.20" y="486.93" width="11.90" height="8.57" fill="#c80020"/>
<line x1="224.15" y1="495.50" x2="224.15" y2="498.50" stroke="#1a1a1a" stroke-width="1.1"/>
<text x="224.15" y="399.80" font-size="7.6" text-anchor="middle" fill="#333333" stroke="#333" stroke-width="0.12">Σ20</text>
<text x="224.15" y="509.40" font-size="8.3" text-anchor="middle" fill="#333333" stroke="#333" stroke-width="0.12">M</text>
<text x="224.15" y="522.00" font-size="8.3" text-anchor="middle" fill="#333333" stroke="#333" stroke-width="0.12">14</text>
<rect x="222.05" y="530.60" width="4.20" height="1.00" fill="#2a2a2a"/>
<rect x="237.85" y="403.20" width="11.90" height="92.30" fill="#c7c5ca"/>
<rect x="237.85" y="493.08" width="11.90" height="2.42" fill="#c80020"/>
<line x1="243.80" y1="495.50" x2="243.80" y2="498.50" stroke="#1a1a1a" stroke-width="1.1"/>
<text x="243.80" y="399.80" font-size="7.6" text-anchor="middle" fill="#333333" stroke="#333" stroke-width="0.12">Σ65</text>
<text x="243.80" y="509.40" font-size="8.3" text-anchor="middle" fill="#333333" stroke="#333" stroke-width="0.12">P</text>
<text x="243.80" y="522.00" font-size="8.3" text-anchor="middle" fill="#333333" stroke="#333" stroke-width="0.12">17</text>
<rect x="241.70" y="530.60" width="4.20" height="1.00" fill="#2a2a2a"/>
<rect x="257.50" y="403.20" width="11.90" height="92.30" fill="#c7c5ca"/>
<rect x="257.50" y="476.67" width="11.90" height="0.93" fill="#e78e7f"/>
<rect x="257.50" y="477.61" width="11.90" height="17.89" fill="#c80020"/>
<line x1="263.45" y1="495.50" x2="263.45" y2="498.50" stroke="#1a1a1a" stroke-width="1.1"/>
<text x="263.45" y="399.80" font-size="7.6" text-anchor="middle" fill="#333333" stroke="#333" stroke-width="0.12">Σ5</text>
<text x="263.45" y="509.40" font-size="8.3" text-anchor="middle" fill="#333333" stroke="#333" stroke-width="0.12">Q</text>
<text x="263.45" y="522.00" font-size="8.3" text-anchor="middle" fill="#333333" stroke="#333" stroke-width="0.12">18</text>
<rect x="261.35" y="530.60" width="4.20" height="1.00" fill="#2a2a2a"/>
<rect x="277.15" y="403.20" width="11.90" height="92.30" fill="#c7c5ca"/>
<rect x="277.15" y="467.26" width="11.90" height="28.24" fill="#e78e7f"/>
<line x1="283.10" y1="495.50" x2="283.10" y2="498.50" stroke="#1a1a1a" stroke-width="1.1"/>
<text x="283.10" y="399.80" font-size="7.6" text-anchor="middle" fill="#333333" stroke="#333" stroke-width="0.12">Σ19</text>
<text x="283.10" y="509.40" font-size="8.3" text-anchor="middle" fill="#333333" stroke="#333" stroke-width="0.12">S</text>
<text x="283.10" y="522.00" font-size="8.3" text-anchor="middle" fill="#333333" stroke="#333" stroke-width="0.12">20</text>
<rect x="281.00" y="530.60" width="4.20" height="1.00" fill="#2a2a2a"/>
<rect x="296.80" y="403.20" width="11.90" height="92.30" fill="#c7c5ca"/>
<rect x="296.80" y="485.71" width="11.90" height="9.79" fill="#e78e7f"/>
<line x1="302.75" y1="495.50" x2="302.75" y2="498.50" stroke="#1a1a1a" stroke-width="1.1"/>
<text x="302.75" y="399.80" font-size="7.6" text-anchor="middle" fill="#333333" stroke="#333" stroke-width="0.12">Σ27</text>
<text x="302.75" y="509.40" font-size="8.3" text-anchor="middle" fill="#333333" stroke="#333" stroke-width="0.12">T</text>
<text x="302.75" y="522.00" font-size="8.3" text-anchor="middle" fill="#333333" stroke="#333" stroke-width="0.12">21</text>
<rect x="300.65" y="530.60" width="4.20" height="1.00" fill="#2a2a2a"/>
<rect x="316.45" y="403.20" width="11.90" height="92.30" fill="#c7c5ca"/>
<rect x="316.45" y="440.98" width="11.90" height="1.58" fill="#e78e7f"/>
<rect x="316.45" y="442.56" width="11.90" height="52.94" fill="#c80020"/>
<line x1="322.40" y1="495.50" x2="322.40" y2="498.50" stroke="#1a1a1a" stroke-width="1.1"/>
<text x="322.40" y="399.80" font-size="7.6" text-anchor="middle" fill="#333333" stroke="#333" stroke-width="0.12">Σ21</text>
<text x="322.40" y="509.40" font-size="8.3" text-anchor="middle" fill="#333333" stroke="#333" stroke-width="0.12">V</text>
<text x="322.40" y="522.00" font-size="8.3" text-anchor="middle" fill="#333333" stroke="#333" stroke-width="0.12">23</text>
<rect x="320.30" y="530.60" width="4.20" height="1.00" fill="#2a2a2a"/>
<rect x="336.10" y="403.20" width="11.90" height="92.30" fill="#c7c5ca"/>
<line x1="342.05" y1="495.50" x2="342.05" y2="498.50" stroke="#1a1a1a" stroke-width="1.1"/>
<text x="342.05" y="399.80" font-size="7.6" text-anchor="middle" fill="#333333" stroke="#333" stroke-width="0.12">Σ23</text>
<text x="342.05" y="509.40" font-size="8.3" text-anchor="middle" fill="#333333" stroke="#333" stroke-width="0.12">X</text>
<text x="342.05" y="522.00" font-size="8.3" text-anchor="middle" fill="#333333" stroke="#333" stroke-width="0.12">25</text>
<rect x="339.95" y="530.60" width="4.20" height="1.00" fill="#2a2a2a"/>
<rect x="355.75" y="403.20" width="11.90" height="92.30" fill="#c7c5ca"/>
<rect x="355.75" y="489.44" width="11.90" height="3.73" fill="#e78e7f"/>
<rect x="355.75" y="493.17" width="11.90" height="2.33" fill="#c80020"/>
<line x1="361.70" y1="495.50" x2="361.70" y2="498.50" stroke="#1a1a1a" stroke-width="1.1"/>
<text x="361.70" y="399.80" font-size="7.6" text-anchor="middle" fill="#333333" stroke="#333" stroke-width="0.12">Σ43</text>
<text x="361.70" y="509.40" font-size="8.3" text-anchor="middle" fill="#333333" stroke="#333" stroke-width="0.12">Y</text>
<text x="361.70" y="522.00" font-size="8.3" text-anchor="middle" fill="#333333" stroke="#333" stroke-width="0.12">26</text>
<rect x="359.60" y="530.60" width="4.20" height="1.00" fill="#2a2a2a"/>
<rect x="375.40" y="403.20" width="11.90" height="92.30" fill="#c7c5ca"/>
<rect x="375.40" y="449.37" width="11.90" height="46.13" fill="#e78e7f"/>
<line x1="381.35" y1="495.50" x2="381.35" y2="498.50" stroke="#1a1a1a" stroke-width="1.1"/>
<text x="381.35" y="399.80" font-size="7.6" text-anchor="middle" fill="#333333" stroke="#333" stroke-width="0.12">Σ2</text>
<text x="381.35" y="509.40" font-size="8.3" text-anchor="middle" fill="#333333" stroke="#333" stroke-width="0.12">Z</text>
<text x="381.35" y="522.00" font-size="8.3" text-anchor="middle" fill="#333333" stroke="#333" stroke-width="0.12">27</text>
<rect x="379.25" y="530.60" width="4.20" height="1.00" fill="#2a2a2a"/>
<line x1="53.20" y1="495.50" x2="393.50" y2="495.50" stroke="#151515" stroke-width="1.5"/>
<text x="12.50" y="509.40" font-size="8.3" fill="#333333" stroke="#333333" stroke-width="0.12" textLength="37.5" lengthAdjust="spacingAndGlyphs">Product ID</text>
<text x="15.50" y="522.00" font-size="8.3" fill="#333333" stroke="#333333" stroke-width="0.12" textLength="34.5" lengthAdjust="spacingAndGlyphs">Patient ID</text>
<text x="18.20" y="534.00" font-size="8.3" fill="#333333" stroke="#333333" stroke-width="0.12" textLength="31.8" lengthAdjust="spacingAndGlyphs">AdV-load</text>
<text transform="translate(18.30,442.40) rotate(-90)" font-size="8.7" text-anchor="middle" fill="#333333" stroke="#333333" stroke-width="0.35" textLength="37.7" lengthAdjust="spacingAndGlyphs">AdV-specific</text>
<text transform="translate(29.50,442.80) rotate(-90)" font-size="8.7" text-anchor="middle" fill="#333333" stroke="#333333" stroke-width="0.35" textLength="60.4" lengthAdjust="spacingAndGlyphs">TCR sequences (%)</text>
<line x1="466.50" y1="20.80" x2="466.50" y2="118.80" stroke="#151515" stroke-width="1.5"/>
<line x1="463.50" y1="118.20" x2="466.50" y2="118.20" stroke="#1a1a1a" stroke-width="1.1"/>
<text x="460.50" y="121.80" font-size="8.6" text-anchor="end" fill="#333333" stroke="#333" stroke-width="0.12">0</text>
<line x1="463.50" y1="99.32" x2="466.50" y2="99.32" stroke="#1a1a1a" stroke-width="1.1"/>
<text x="460.50" y="102.92" font-size="8.6" text-anchor="end" fill="#333333" stroke="#333" stroke-width="0.12">20</text>
<line x1="463.50" y1="80.44" x2="466.50" y2="80.44" stroke="#1a1a1a" stroke-width="1.1"/>
<text x="460.50" y="84.04" font-size="8.6" text-anchor="end" fill="#333333" stroke="#333" stroke-width="0.12">40</text>
<line x1="463.50" y1="61.56" x2="466.50" y2="61.56" stroke="#1a1a1a" stroke-width="1.1"/>
<text x="460.50" y="65.16" font-size="8.6" text-anchor="end" fill="#333333" stroke="#333" stroke-width="0.12">60</text>
<line x1="463.50" y1="42.68" x2="466.50" y2="42.68" stroke="#1a1a1a" stroke-width="1.1"/>
<text x="460.50" y="46.28" font-size="8.6" text-anchor="end" fill="#333333" stroke="#333" stroke-width="0.12">80</text>
<line x1="463.50" y1="23.80" x2="466.50" y2="23.80" stroke="#1a1a1a" stroke-width="1.1"/>
<text x="460.50" y="27.40" font-size="8.6" text-anchor="end" fill="#333333" stroke="#333" stroke-width="0.12">100</text>
<rect x="474.00" y="71.94" width="14.80" height="46.26" fill="#f08c00"/>
<line x1="481.40" y1="71.94" x2="481.40" y2="37.96" stroke="#333" stroke-width="0.75"/>
<line x1="479.90" y1="37.96" x2="482.90" y2="37.96" stroke="#222" stroke-width="0.8"/>
<circle cx="481.40" cy="32.77" r="1.1" fill="#111"/>
<circle cx="481.40" cy="43.62" r="1.1" fill="#111"/>
<circle cx="481.40" cy="71.94" r="1.1" fill="#111"/>
<circle cx="481.40" cy="82.33" r="1.1" fill="#111"/>
<circle cx="481.40" cy="91.01" r="1.1" fill="#111"/>
<line x1="481.40" y1="118.20" x2="481.40" y2="121.20" stroke="#151515" stroke-width="1.0"/>
<rect x="496.80" y="96.02" width="14.80" height="22.18" fill="#f08c00"/>
<line x1="504.20" y1="96.02" x2="504.20" y2="85.92" stroke="#333" stroke-width="0.75"/>
<line x1="502.70" y1="85.92" x2="505.70" y2="85.92" stroke="#222" stroke-width="0.8"/>
<circle cx="504.20" cy="33.81" r="1.1" fill="#111"/>
<circle cx="504.20" cy="85.92" r="1.1" fill="#111"/>
<circle cx="504.20" cy="89.41" r="1.1" fill="#111"/>
<circle cx="504.20" cy="92.15" r="1.1" fill="#111"/>
<circle cx="504.20" cy="98.85" r="1.1" fill="#111"/>
<circle cx="504.20" cy="101.87" r="1.1" fill="#111"/>
<circle cx="502.20" cy="115.08" r="1.1" fill="#111"/>
<circle cx="506.10" cy="114.14" r="1.1" fill="#111"/>
<line x1="504.20" y1="118.20" x2="504.20" y2="121.20" stroke="#151515" stroke-width="1.0"/>
<line x1="465.90" y1="118.20" x2="520.00" y2="118.20" stroke="#151515" stroke-width="1.5"/>
<rect x="479.00" y="128.93" width="4.80" height="0.95" fill="#2a2a2a"/>
<rect x="480.92" y="127.00" width="0.95" height="4.80" fill="#2a2a2a"/>
<rect x="502.10" y="128.60" width="4.20" height="1.00" fill="#2a2a2a"/>
<text x="492.80" y="145.90" font-size="10.0" text-anchor="middle" fill="#333333" stroke="#333333" stroke-width="0.25" textLength="28.3" lengthAdjust="spacingAndGlyphs">CMV-load</text>
<path d="M482.60,25.40 V22.80 H506.00 V25.40" fill="none" stroke="#1a1a1a" stroke-width="1.0"/>
<circle cx="494.2" cy="19.5" r="0.95" fill="#111"/>
<text transform="translate(430.20,70.80) rotate(-90)" font-size="8.9" text-anchor="middle" fill="#333333" stroke="#333333" stroke-width="0.25" textLength="83.6" lengthAdjust="spacingAndGlyphs">Percentage of CMV-specific</text>
<text transform="translate(441.30,70.40) rotate(-90)" font-size="8.9" text-anchor="middle" fill="#333333" stroke="#333333" stroke-width="0.25" textLength="90.4" lengthAdjust="spacingAndGlyphs">TCR sequences from products</text>
<line x1="466.90" y1="229.00" x2="466.90" y2="326.20" stroke="#151515" stroke-width="1.5"/>
<line x1="463.90" y1="325.60" x2="466.90" y2="325.60" stroke="#1a1a1a" stroke-width="1.1"/>
<text x="460.90" y="329.20" font-size="8.6" text-anchor="end" fill="#333333" stroke="#333" stroke-width="0.12">0</text>
<line x1="463.90" y1="306.88" x2="466.90" y2="306.88" stroke="#1a1a1a" stroke-width="1.1"/>
<text x="460.90" y="310.48" font-size="8.6" text-anchor="end" fill="#333333" stroke="#333" stroke-width="0.12">20</text>
<line x1="463.90" y1="288.16" x2="466.90" y2="288.16" stroke="#1a1a1a" stroke-width="1.1"/>
<text x="460.90" y="291.76" font-size="8.6" text-anchor="end" fill="#333333" stroke="#333" stroke-width="0.12">40</text>
<line x1="463.90" y1="269.44" x2="466.90" y2="269.44" stroke="#1a1a1a" stroke-width="1.1"/>
<text x="460.90" y="273.04" font-size="8.6" text-anchor="end" fill="#333333" stroke="#333" stroke-width="0.12">60</text>
<line x1="463.90" y1="250.72" x2="466.90" y2="250.72" stroke="#1a1a1a" stroke-width="1.1"/>
<text x="460.90" y="254.32" font-size="8.6" text-anchor="end" fill="#333333" stroke="#333" stroke-width="0.12">80</text>
<line x1="463.90" y1="232.00" x2="466.90" y2="232.00" stroke="#1a1a1a" stroke-width="1.1"/>
<text x="460.90" y="235.60" font-size="8.6" text-anchor="end" fill="#333333" stroke="#333" stroke-width="0.12">100</text>
<rect x="474.00" y="296.21" width="14.80" height="29.39" fill="#0b634d"/>
<line x1="481.40" y1="296.21" x2="481.40" y2="270.38" stroke="#333" stroke-width="0.75"/>
<line x1="479.90" y1="270.38" x2="482.90" y2="270.38" stroke="#222" stroke-width="0.8"/>
<circle cx="481.40" cy="265.04" r="1.1" fill="#111"/>
<circle cx="481.40" cy="269.44" r="1.1" fill="#111"/>
<circle cx="481.40" cy="275.99" r="1.1" fill="#111"/>
<circle cx="481.40" cy="296.21" r="1.1" fill="#111"/>
<circle cx="481.40" cy="306.88" r="1.1" fill="#111"/>
<circle cx="483.30" cy="312.22" r="1.1" fill="#111"/>
<circle cx="479.20" cy="314.74" r="1.1" fill="#111"/>
<line x1="481.40" y1="325.60" x2="481.40" y2="328.60" stroke="#151515" stroke-width="1.0"/>
<rect x="496.60" y="318.49" width="14.80" height="7.11" fill="#0b634d"/>
<line x1="504.00" y1="318.49" x2="504.00" y2="310.44" stroke="#333" stroke-width="0.75"/>
<line x1="502.50" y1="310.44" x2="505.50" y2="310.44" stroke="#222" stroke-width="0.8"/>
<circle cx="504.00" cy="246.04" r="1.1" fill="#111"/>
<circle cx="504.00" cy="294.24" r="1.1" fill="#111"/>
<circle cx="504.00" cy="308.38" r="1.1" fill="#111"/>
<circle cx="499.50" cy="315.77" r="1.1" fill="#111"/>
<circle cx="504.00" cy="314.74" r="1.1" fill="#111"/>
<circle cx="508.00" cy="316.33" r="1.1" fill="#111"/>
<circle cx="501.30" cy="319.89" r="1.1" fill="#111"/>
<circle cx="506.00" cy="319.89" r="1.1" fill="#111"/>
<circle cx="497.00" cy="325.23" r="1.1" fill="#111"/>
<circle cx="501.30" cy="325.23" r="1.1" fill="#111"/>
<circle cx="505.80" cy="325.23" r="1.1" fill="#111"/>
<circle cx="510.20" cy="325.23" r="1.1" fill="#111"/>
<line x1="504.00" y1="325.60" x2="504.00" y2="328.60" stroke="#151515" stroke-width="1.0"/>
<line x1="466.30" y1="325.60" x2="520.00" y2="325.60" stroke="#151515" stroke-width="1.5"/>
<rect x="479.00" y="336.93" width="4.80" height="0.95" fill="#2a2a2a"/>
<rect x="480.92" y="335.00" width="0.95" height="4.80" fill="#2a2a2a"/>
<rect x="501.90" y="336.60" width="4.20" height="1.00" fill="#2a2a2a"/>
<text x="492.70" y="353.30" font-size="10.0" text-anchor="middle" fill="#333333" stroke="#333333" stroke-width="0.25" textLength="27.8" lengthAdjust="spacingAndGlyphs">EBV-load</text>
<path d="M482.60,234.70 V232.10 H506.00 V234.70" fill="none" stroke="#1a1a1a" stroke-width="1.0"/>
<circle cx="491.4" cy="228.5" r="0.95" fill="#111"/>
<circle cx="494.9" cy="228.5" r="0.95" fill="#111"/>
<text transform="translate(430.20,278.40) rotate(-90)" font-size="8.9" text-anchor="middle" fill="#333333" stroke="#333333" stroke-width="0.25" textLength="82.1" lengthAdjust="spacingAndGlyphs">Percentage of EBV-specific</text>
<text transform="translate(441.30,278.00) rotate(-90)" font-size="8.9" text-anchor="middle" fill="#333333" stroke="#333333" stroke-width="0.25" textLength="87.3" lengthAdjust="spacingAndGlyphs">TCR sequences from product</text>
<rect x="88.40" y="166.60" width="8.80" height="3.20" fill="#f08c00"/>
<rect x="103.80" y="166.60" width="8.80" height="3.20" fill="#0b634d"/>
<rect x="118.80" y="166.60" width="8.80" height="3.20" fill="#c80020"/>
<text x="132" y="170.90" font-size="7.55" fill="#333333" stroke="#333333" stroke-width="0.1">Present in product and found <tspan font-weight="bold" font-size="7.85" stroke-width="0.2">only after</tspan> T-cell product infusion</text>
<rect x="88.40" y="176.60" width="8.80" height="3.20" fill="#f9c98c"/>
<rect x="103.80" y="176.60" width="8.80" height="3.20" fill="#afd69c"/>
<rect x="118.80" y="176.60" width="8.80" height="3.20" fill="#e78e7f"/>
<text x="132" y="180.90" font-size="7.55" fill="#333333" stroke="#333333" stroke-width="0.1">Present in product and found <tspan font-weight="bold" font-size="7.85" stroke-width="0.2">before and after</tspan> T-cell product infusion</text>
<rect x="103.80" y="186.60" width="8.80" height="3.20" fill="#c7c5ca"/>
<text x="132" y="190.90" font-size="7.55" fill="#333333" stroke="#333333" stroke-width="0.1">Present in product and <tspan font-weight="bold" font-size="7.85" stroke-width="0.2">not</tspan> found in patient</text>
</svg></body></html>
